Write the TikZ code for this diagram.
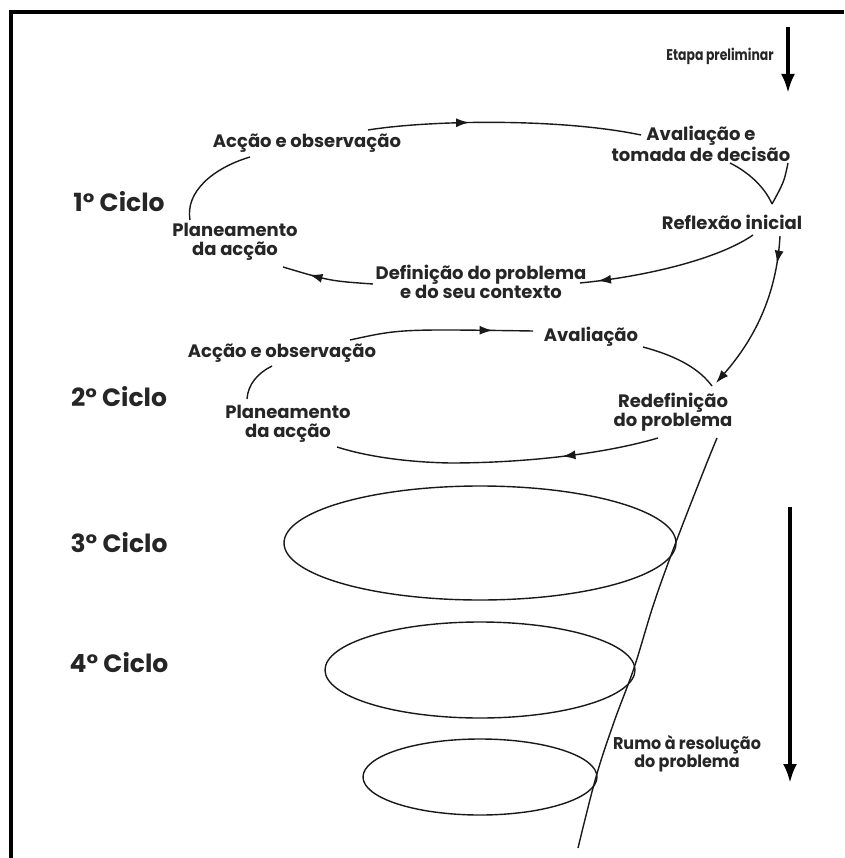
\documentclass[tikz,border=0pt]{standalone}
\usepackage{fontspec}
\setmainfont{Poppins}
\usetikzlibrary{arrows.meta,decorations.markings,shapes.geometric}
\begin{document}
\begin{tikzpicture}[x=1pt,y=-1pt,
  lbl/.style={font=\bfseries\fontsize{18}{19}\selectfont, text=black!85, align=center, inner sep=1pt},
  small/.style={font=\bfseries\fontsize{15.5}{18}\selectfont, text=black!85, align=center, inner sep=1pt},
  cyc/.style={font=\bfseries\fontsize{25}{28}\selectfont, text=black!85, inner sep=1pt},
  ln/.style={line width=1.4pt, black!90},
  tip/.style={-{Latex[length=13pt,width=9pt]}},
  bigtip/.style={line width=3.6pt, -{Latex[length=19pt,width=14pt]}},
  midarrow/.style={postaction={decorate}, decoration={markings, mark=at position #1 with {\arrow{Latex[length=13pt,width=9pt]}}}},
  ring/.style={draw, ellipse, line width=1.4pt, inner sep=0pt, black!90}
]
\useasboundingbox (0,0) rectangle (844,858);
\fill[white] (0,0) rectangle (844,858);
\draw[line width=4pt] (11,858) -- (11,12) -- (844,12);

% labels
\node[small] (etapa) at (720,56) {\scalebox{0.8}[1]{Etapa preliminar}};
\node[lbl] (ao1) at (307,143) {Acção e observação};
\node[lbl] (av1) at (701,144) {Avaliação e\\tomada de decisão};
\node[cyc] (c1) at (119,202) {1° Ciclo};
\node[lbl] (pl1) at (235,242) {Planeamento\\da acção};
\node[lbl] (ref) at (732,222) {Reflexão inicial};
\node[lbl] (def) at (481,282) {Definição do problema\\e do seu contexto};
\node[lbl] (ao2) at (282,353) {Acção e observação};
\node[lbl] (av2) at (591,337) {Avaliação};
\node[cyc] (c2) at (119,397) {2° Ciclo};
\node[lbl] (pl2) at (288,424) {Planeamento\\da acção};
\node[lbl] (red) at (673,412) {Redefinição\\do problema};
\node[cyc] (c3) at (119,543) {3° Ciclo};
\node[cyc] (c4) at (119,663) {4° Ciclo};
\node[lbl, font=\bfseries\fontsize{17}{18}\selectfont] (rumo) at (687,754) {\scalebox{0.94}[1]{Rumo à resolução}\\\scalebox{0.94}[1]{do problema}};

% ellipses
\node[ring, minimum width=392pt, minimum height=114pt] (e3) at (480,543) {};
\node[ring, minimum width=310pt, minimum height=96pt] (e4) at (480,670) {};
\node[ring, minimum width=234pt, minimum height=76pt] (e5) at (480,777) {};

% big arrows
\coordinate (pa) at (788,27);
\coordinate (pb) at (788,93);
\draw[bigtip] (pa) -- (pb);
\coordinate (ra) at (790,507);
\coordinate (rb) at (790,783);
\draw[bigtip] (ra) -- (rb);

% cycle 1
\coordinate (p1a) at (190,220);
\coordinate (p1b) at (250,157);
\draw[ln] (p1a) .. controls (185,192) and (213,168) .. (p1b);
\coordinate (t1a) at (368,130);
\coordinate (t1b) at (641,135);
\draw[ln, midarrow=0.37] (t1a) .. controls (430,120) and (560,118) .. (t1b);
\coordinate (v1) at (730,163);
\coordinate (v2) at (788,163);
\coordinate (vm) at (772,204);
\draw[ln] (v1) .. controls (752,174) and (766,190) .. (vm);
\draw[ln] (v2) .. controls (784,182) .. (vm);
\coordinate (d1a) at (753,235);
\coordinate (d1b) at (580,283);
\draw[ln, midarrow=0.9] (d1a) .. controls (720,258) and (650,276) .. (d1b);
\coordinate (d2a) at (373,284);
\coordinate (d2b) at (283,267);
\draw[ln, midarrow=0.7] (d2a) .. controls (330,281) .. (d2b);

% descent to cycle 2
\coordinate (s1a) at (780,236);
\coordinate (s1b) at (716,383);
\draw[ln, tip, midarrow=0.17] (s1a) .. controls (777,290) and (758,335) .. (s1b);

% cycle 2
\coordinate (p2a) at (247,399);
\coordinate (p2b) at (272,366);
\draw[ln] (p2a) .. controls (248,384) and (258,373) .. (p2b);
\coordinate (t2a) at (350,340);
\coordinate (t2b) at (533,331);
\draw[ln, midarrow=0.78] (t2a) .. controls (400,329) .. (t2b);
\coordinate (a2a) at (643,347);
\coordinate (a2b) at (712,386);
\draw[ln] (a2a) .. controls (680,357) and (700,370) .. (a2b);
\coordinate (b2a) at (658,438);
\coordinate (b2m) at (450,463);
\coordinate (b2b) at (337,447);
\draw[ln, midarrow=0.3] (b2a) .. controls (600,455) and (520,463) .. (b2m) .. controls (400,462) and (362,455) .. (b2b);

% spiral
\coordinate (sp0) at (717,438);
\coordinate (sp9) at (578,848);
\draw[ln] plot[smooth, tension=0.6] coordinates {(sp0) (704,470) (676,542) (654,603) (634,668) (614,722) (596,777) (sp9)};
\end{tikzpicture}
\end{document}
